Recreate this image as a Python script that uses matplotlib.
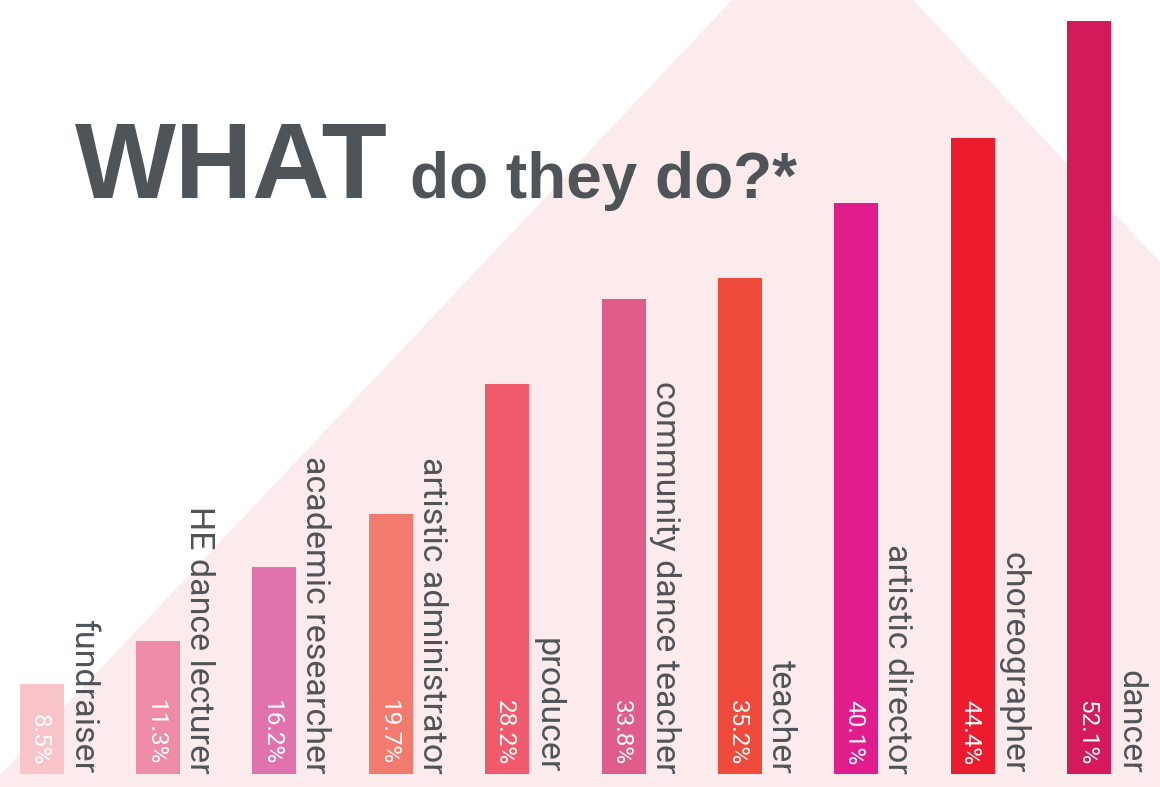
import matplotlib
matplotlib.use("Agg")
import matplotlib.pyplot as plt
from matplotlib.patches import Polygon
from matplotlib.transforms import offset_copy

categories = ["fundraiser", "HE dance lecturer", "academic researcher",
              "artistic administrator", "producer", "community dance teacher",
              "teacher", "artistic director", "choreographer", "dancer"]
values = [8.5, 11.3, 16.2, 19.7, 28.2, 33.8, 35.2, 40.1, 44.4, 52.1]
value_labels = ["8.5%", "11.3%", "16.2%", "19.7%", "28.2%", "33.8%",
                "35.2%", "40.1%", "44.4%", "52.1%"]
colors = ["#f8c3c9", "#ee8ca8", "#e073ae", "#f27b6f", "#f05a6c",
          "#e05c8a", "#ef4a3c", "#e11d8e", "#ec1c2e", "#d51a5b"]

TEXT = "#4f5458"
PINK_BG = "#fcebed"

W, H = 1160, 787
fig = plt.figure(figsize=(W / 100, H / 100), dpi=100, facecolor="white")

ax = fig.add_axes([0, 13 / H, 1, 774 / H])
ax.set_facecolor("none")
ax.axis("off")

# background decorative shape (figure pixel coords -> fraction)
pts = [(0, 775), (732, 0), (913, 0), (1160, 262), (1160, 787), (0, 787)]
poly = Polygon([(x / W, 1 - y / H) for x, y in pts], closed=True,
               transform=fig.transFigure, facecolor=PINK_BG, edgecolor="none",
               zorder=0, clip_on=False)
ax.add_patch(poly)

x0 = 41.5
step = 116.4
ax.set_xlim(-x0 / step, (W - x0) / step)
ymin, ymax = 2.58, 53.47
ax.set_ylim(ymin, ymax)

bw = 44 / step
xs = list(range(len(categories)))
ax.bar(xs, values, width=bw, color=colors, zorder=2)

for i, (cat, lab) in enumerate(zip(categories, value_labels)):
    tr = offset_copy(ax.transData, fig=fig, x=bw / 2 * step + 10, y=0, units="dots")
    ax.text(i, ymin, cat, transform=tr, rotation=-90, rotation_mode="anchor",
            ha="right", va="baseline", fontsize=24.5, color=TEXT,
            family=["Roboto", "DejaVu Sans"], zorder=3)
    tr2 = offset_copy(ax.transData, fig=fig, x=-9, y=9, units="dots")
    ax.text(i, ymin, lab, transform=tr2, rotation=-90, rotation_mode="anchor",
            ha="right", va="baseline", fontsize=17.5, color="white",
            family=["Roboto", "DejaVu Sans"], zorder=3)

ax.text(75 / W, 1 - 198 / H, "WHAT", transform=fig.transFigure, ha="left", va="baseline",
        fontsize=77, fontweight="bold", family=["Liberation Sans", "DejaVu Sans"],
        color=TEXT, zorder=4)
ax.text(410 / W, 1 - 198 / H, "do they do?*", transform=fig.transFigure, ha="left",
        va="baseline", fontsize=46, fontweight="bold",
        family=["Liberation Sans", "DejaVu Sans"], color=TEXT, zorder=4)

fig.savefig("out.png", dpi=100, facecolor="white")
